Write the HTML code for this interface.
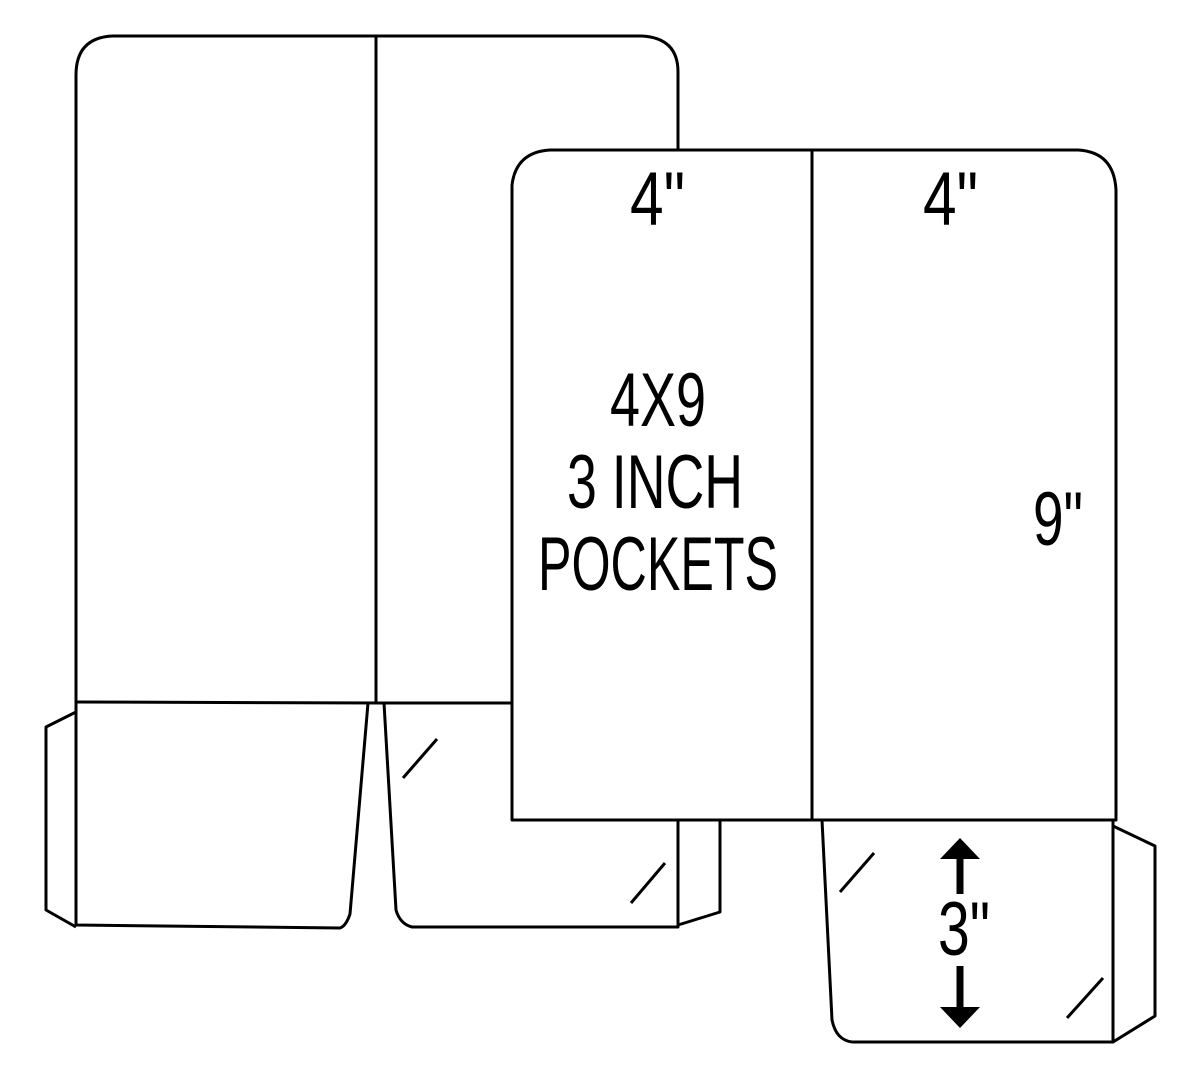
<!DOCTYPE html>
<html><head><meta charset="utf-8"><style>html,body{margin:0;padding:0;background:#fff}svg{display:block}</style></head>
<body>
<svg width="1200" height="1078" viewBox="0 0 1200 1078" xmlns="http://www.w3.org/2000/svg">
<g fill="none" stroke="#000" stroke-width="3" stroke-linejoin="round">
<path d="M76,702 L76,75 Q76,38 112,36 L642,36 Q678,38 678,72 L678,150"/>
<line x1="376" y1="36" x2="376" y2="702"/>
<line x1="76" y1="702" x2="384" y2="703"/>
<line x1="384" y1="703" x2="512" y2="703"/>
<polyline points="76,712 46,727 46,910 76,927"/>
<path d="M76,702 L76,925 L340,928 Q346,926 350,914 L368,703"/>
<path d="M384,703 L396,910 Q400,924 412,927 L678,927 L678,820"/>
<polyline points="678,925 720,912 720,820"/>
<line x1="403" y1="778" x2="437" y2="739"/>
<line x1="631" y1="903" x2="665" y2="863"/>
<path d="M512,820 L512,185 Q516,152 550,150 L1078,150 Q1114,152 1116,190 L1116,820 Z" fill="#fff"/>
<line x1="812" y1="150" x2="812" y2="820"/>
<path d="M822,820 L832,1020 Q836,1040 852,1042 L1113,1042 L1113,820"/>
<polyline points="1113,826 1155,846 1155,1016 1113,1042"/>
<line x1="840" y1="892" x2="874" y2="853"/>
<line x1="1067" y1="1018" x2="1103" y2="978"/>
<line x1="960" y1="855" x2="960" y2="894" stroke-width="7"/>
<line x1="960" y1="966" x2="960" y2="1010" stroke-width="7"/>
</g>
<polygon points="960,838 940,859 980,859" fill="#000"/>
<polygon points="960,1028 940,1007 980,1007" fill="#000"/>
<g font-family="Liberation Sans, sans-serif" font-size="76" fill="#000">
<text x="630" y="225" textLength="55" lengthAdjust="spacingAndGlyphs">4"</text>
<text x="923" y="225" textLength="55" lengthAdjust="spacingAndGlyphs">4"</text>
<text x="610" y="426" textLength="96" lengthAdjust="spacingAndGlyphs">4X9</text>
<text x="567" y="508" textLength="176" lengthAdjust="spacingAndGlyphs">3 INCH</text>
<text x="538" y="590" textLength="240" lengthAdjust="spacingAndGlyphs">POCKETS</text>
<text x="1033" y="545" textLength="50" lengthAdjust="spacingAndGlyphs">9"</text>
<text x="938" y="955" textLength="52" lengthAdjust="spacingAndGlyphs">3"</text>
</g>
</svg>
</body></html>
